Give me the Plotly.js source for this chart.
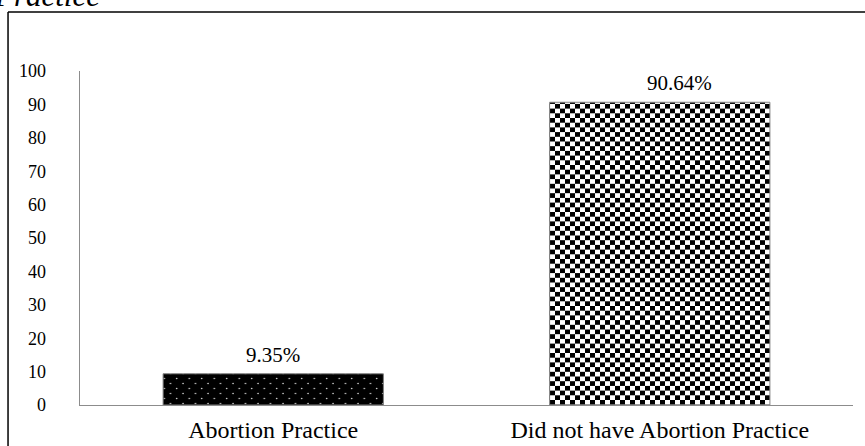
<!DOCTYPE html>
<html>
<head>
<meta charset="utf-8">
<script src="https://cdn.plot.ly/plotly-3.0.1.min.js"></script>
<style>
  html, body { margin: 0; padding: 0; background: #fff; }
  #chart { width: 865px; height: 446px; }
</style>
</head>
<body>
<div id="chart"></div>
<script>
// ---- data ----
const categories = ["Abortion Practice", "Did not have Abortion Practice"];
const percentValues = [9.35, 90.64];
const yTickValues = [0, 10, 20, 30, 40, 50, 60, 70, 80, 90, 100];
const captionText = "Practice";

const serif = "Liberation Serif";
const labelXShift = [0, 20];

const trace = {
  type: "bar",
  x: categories,
  y: percentValues,
  marker: {
    color: "#000000",
    line: { color: "#808080", width: 1 },
    pattern: {
      shape: [".", "x"],
      bgcolor: ["#000000", "#ffffff"],
      fgcolor: ["#ffffff", "#000000"],
      size: [6, 8],
      solidity: [0.05, 0.5],
      fillmode: "replace"
    }
  },
  hoverinfo: "skip"
};

const valueLabels = categories.map((c, i) => ({
  x: c, y: percentValues[i], xref: "x", yref: "y",
  text: percentValues[i].toFixed(2) + "%",
  showarrow: false, yanchor: "bottom", yshift: 5, xshift: labelXShift[i],
  font: { family: serif, size: 21, color: "#000" }
}));

const layout = {
  width: 865, height: 446,
  margin: { l: 80, r: 12, t: 71, b: 41 },
  paper_bgcolor: "#ffffff",
  plot_bgcolor: "#ffffff",
  showlegend: false,
  bargap: 0.43,
  font: { family: serif, color: "#000" },
  xaxis: {
    type: "category",
    showline: true, linecolor: "#8c8c8c", linewidth: 1.3,
    showgrid: false, zeroline: false,
    ticks: "", ticklabelstandoff: 3,
    tickfont: { family: serif, size: 24, color: "#000" },
    fixedrange: true
  },
  yaxis: {
    range: [0, 100],
    tickvals: yTickValues,
    ticktext: yTickValues.map(String),
    showline: true, linecolor: "#8c8c8c", linewidth: 1.3,
    showgrid: false, zeroline: false,
    ticks: "", ticklabelstandoff: 29,
    tickfont: { family: serif, size: 18, color: "#000" },
    fixedrange: true
  },
  annotations: valueLabels.concat([{
    text: captionText, xref: "paper", yref: "paper",
    x: -0.114, y: 1.1677, xanchor: "left", yanchor: "bottom",
    showarrow: false,
    font: { family: serif, size: 31, style: "italic", color: "#000" }
  }]),
  shapes: [
    { type: "line", xref: "paper", yref: "paper",
      x0: -0.0931, x1: -0.0931, y0: -0.2, y1: 1.1766,
      line: { color: "#000", width: 1.5 } },
    { type: "line", xref: "paper", yref: "paper",
      x0: -0.0931, x1: 1.02, y0: 1.1766, y1: 1.1766,
      line: { color: "#000", width: 1.5 } }
  ]
};

Plotly.newPlot("chart", [trace], layout, { staticPlot: true, displayModeBar: false }).then(gd => {
  // refine fill textures: staggered dots and a true checkerboard
  const svgNS = "http://www.w3.org/2000/svg";
  const defs = gd.querySelector(".main-svg defs");
  function mk(tag, attrs, parent) {
    const el = document.createElementNS(svgNS, tag);
    for (const k in attrs) el.setAttribute(k, attrs[k]);
    if (parent) parent.appendChild(el);
    return el;
  }
  const dots = mk("pattern", { id: "dotsPat", patternUnits: "userSpaceOnUse", width: 12.5, height: 10 }, defs);
  mk("rect", { x: 0, y: 0, width: 12.5, height: 10, fill: "#000" }, dots);
  mk("circle", { cx: 3, cy: 2.5, r: 0.8, fill: "#e0e0e0" }, dots);
  mk("circle", { cx: 9.25, cy: 7.5, r: 0.8, fill: "#e0e0e0" }, dots);

  const chk = mk("pattern", { id: "checkPat", patternUnits: "userSpaceOnUse", width: 10, height: 9.4 }, defs);
  mk("rect", { x: 0, y: 0, width: 10, height: 9.4, fill: "#fff" }, chk);
  mk("rect", { x: 0, y: 0, width: 5, height: 4.7, fill: "#000" }, chk);
  mk("rect", { x: 5, y: 4.7, width: 5, height: 4.7, fill: "#000" }, chk);

  const paths = gd.querySelectorAll(".barlayer .point path");
  const fills = ["url(#dotsPat)", "url(#checkPat)"];
  paths.forEach((p, i) => { if (fills[i]) p.style.fill = fills[i]; });
});
</script>
</body>
</html>
